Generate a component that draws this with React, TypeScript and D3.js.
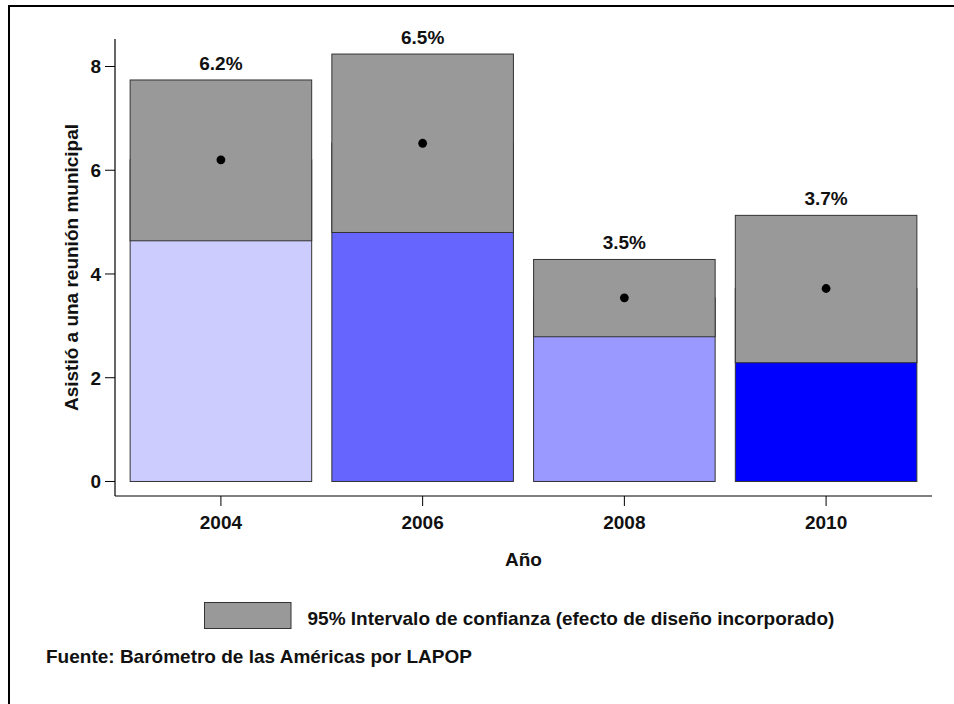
import React from "react";
import * as d3 from "d3";

const years = ["2004", "2006", "2008", "2010"];
const means = [6.2, 6.52, 3.54, 3.72];
const lower = [4.64, 4.8, 2.79, 2.29];
const upper = [7.74, 8.24, 4.28, 5.13];
const valueLabels = ["6.2%", "6.5%", "3.5%", "3.7%"];
const barColors = ["#ccccff", "#6666ff", "#9999ff", "#0000ff"];
const yTicks = [0, 2, 4, 6, 8];

const W = 954;
const H = 704;
const FONT = "'Liberation Sans', Arial, Helvetica, sans-serif";
const FS = 19;
const TEXT = "#111";

export default function App() {
  const x = d3.scaleBand<string>().domain(years).range([115, 932]).paddingInner(0.1).paddingOuter(0.075);
  const y = d3.scaleLinear().domain([-0.28, 8.53]).range([496, 39]);
  const [r0, r1] = x.range();
  const [yb, yt] = y.range();

  return (
    <svg width={W} height={H} style={{ position: "absolute", left: 0, top: 0 }} fontFamily={FONT}>
      <rect x={0} y={0} width={W} height={H} fill="#fff" />
      <rect x={9} y={6} width={W + 20} height={H + 20} fill="none" stroke="#000" strokeWidth={2} />

      {/* bars */}
      {years.map((yr, i) => {
        const bx = x(yr)!;
        const bw = x.bandwidth();
        return (
          <g key={yr}>
            <rect x={bx} y={y(means[i])} width={bw} height={y(0) - y(means[i])} fill={barColors[i]} stroke="#333" strokeWidth={1} />
            <rect x={bx} y={y(upper[i])} width={bw} height={y(lower[i]) - y(upper[i])} fill="#999999" stroke="#333" strokeWidth={1} />
            <circle cx={bx + bw / 2} cy={y(means[i])} r={4.4} fill="#000" />
            <text x={bx + bw / 2} y={y(upper[i]) - 10} textAnchor="middle" fontSize={FS} fontWeight="bold" fill={TEXT}>
              {valueLabels[i]}
            </text>
          </g>
        );
      })}

      {/* y axis */}
      <line x1={r0} x2={r0} y1={yb} y2={yt} stroke="#000" strokeWidth={1.2} />
      {yTicks.map((t) => (
        <g key={t}>
          <line x1={r0 - 10} x2={r0} y1={y(t)} y2={y(t)} stroke="#000" strokeWidth={1} />
          <text x={r0 - 14} y={y(t)} dy="0.36em" textAnchor="end" fontSize={FS} fontWeight="bold" fill={TEXT}>
            {t}
          </text>
        </g>
      ))}
      <text
        transform={`translate(78,${(yb + yt) / 2}) rotate(-90)`}
        textAnchor="middle"
        fontSize={FS}
        fontWeight="bold"
        fill={TEXT}
      >
        Asistió a una reunión municipal
      </text>

      {/* x axis */}
      <line x1={r0} x2={r1} y1={yb} y2={yb} stroke="#000" strokeWidth={1.2} />
      {years.map((yr) => {
        const cx = x(yr)! + x.bandwidth() / 2;
        return (
          <g key={yr}>
            <line x1={cx} x2={cx} y1={yb} y2={yb + 10} stroke="#000" strokeWidth={1} />
            <text x={cx} y={529} textAnchor="middle" fontSize={FS} fontWeight="bold" fill={TEXT}>
              {yr}
            </text>
          </g>
        );
      })}
      <text x={(r0 + r1) / 2} y={566} textAnchor="middle" fontSize={FS} fontWeight="bold" fill={TEXT}>
        Año
      </text>

      {/* legend */}
      <rect x={204.5} y={602.5} width={86.5} height={26} fill="#999999" stroke="#333" strokeWidth={1} />
      <text x={307.5} y={625} fontSize={FS} fontWeight="bold" fill={TEXT}>
        95% Intervalo de confianza (efecto de diseño incorporado)
      </text>

      <text x={46} y={663} fontSize={FS} fontWeight="bold" fill={TEXT}>
        Fuente: Barómetro de las Américas por LAPOP
      </text>
    </svg>
  );
}
